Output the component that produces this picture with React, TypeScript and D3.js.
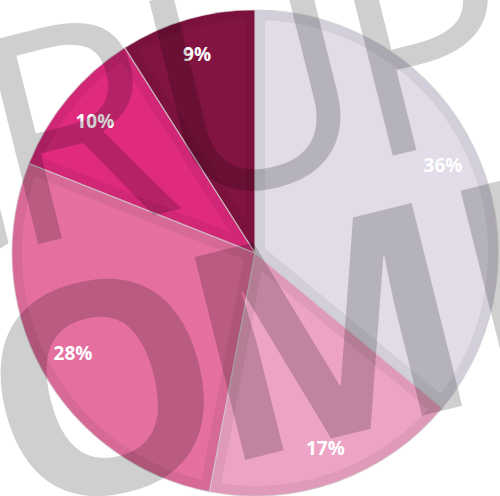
import React from 'react';
import * as d3 from 'd3';

const categories = ['Segmento 1', 'Segmento 2', 'Segmento 3', 'Segmento 4', 'Segmento 5'];
const values = [36, 17, 28, 10, 9];
const colors = ['#E1DCE8', '#EDA3C5', '#E570A0', '#DF2A7E', '#821441'];
const watermarkTop = 'GRUPO';
const watermarkBottom = 'COMERCIAL';

export default function App() {
  const W = 500, H = 496;
  const cx = 255, cy = 253, R = 243;
  const total = d3.sum(values);
  const arcs = d3.pie<number>().sort(null).value((d) => d)(values);
  const arc = d3.arc<d3.PieArcDatum<number>>().innerRadius(0).outerRadius(R);
  const labelArc = d3.arc<d3.PieArcDatum<number>>().innerRadius(R * 0.855).outerRadius(R * 0.855);

  const topX = [-118, 57, 242, 420, 610];
  const botX = [-330, -121, 112, 330, 520, 700, 850, 980, 1150];

  return (
    <svg width={W} height={H} style={{ position: 'absolute', left: 0, top: 0, background: '#fff' }}>
      <defs>
        {arcs.map((a, i) => (
          <clipPath id={`clip${i}`} key={i}>
            <path d={arc(a) || ''} />
          </clipPath>
        ))}
      </defs>
      <g transform={`translate(${cx},${cy})`}>
        {arcs.map((a, i) => (
          <g key={categories[i]}>
            <path d={arc(a) || ''} fill={colors[i]} />
            <path
              d={arc(a) || ''}
              fill="none"
              stroke="#000"
              strokeOpacity={0.06}
              strokeWidth={20}
              clipPath={`url(#clip${i})`}
            />
          </g>
        ))}
        {arcs.map((a, i) => (
          <path key={'b' + i} d={arc(a) || ''} fill="none" stroke="#cfc8cc" strokeOpacity={0.6} strokeWidth={1.2} />
        ))}
        {arcs.map((a, i) => {
          const [x, y] = labelArc.centroid(a);
          return (
            <text
              key={'l' + i}
              x={x}
              y={y}
              textAnchor="middle"
              dominantBaseline="central"
              fill="#fff"
              fontFamily="'Open Sans', sans-serif"
              fontWeight={700}
              fontSize={19}
            >
              {`${Math.round((values[i] / total) * 100)}%`}
            </text>
          );
        })}
      </g>
      <g fill="#000" fillOpacity={0.19} fontFamily="'Open Sans', sans-serif" fontSize={293}>
        <g transform="translate(43,243) rotate(-14)">
          <text x={topX.join(' ')} y={0} textAnchor="middle" fontWeight={400}>
            {watermarkTop}
          </text>
        </g>
        <g transform="translate(245,460) rotate(-14)">
          <text x={botX.join(' ')} y={0} textAnchor="middle" fontWeight={700}>
            {watermarkBottom}
          </text>
        </g>
      </g>
    </svg>
  );
}
